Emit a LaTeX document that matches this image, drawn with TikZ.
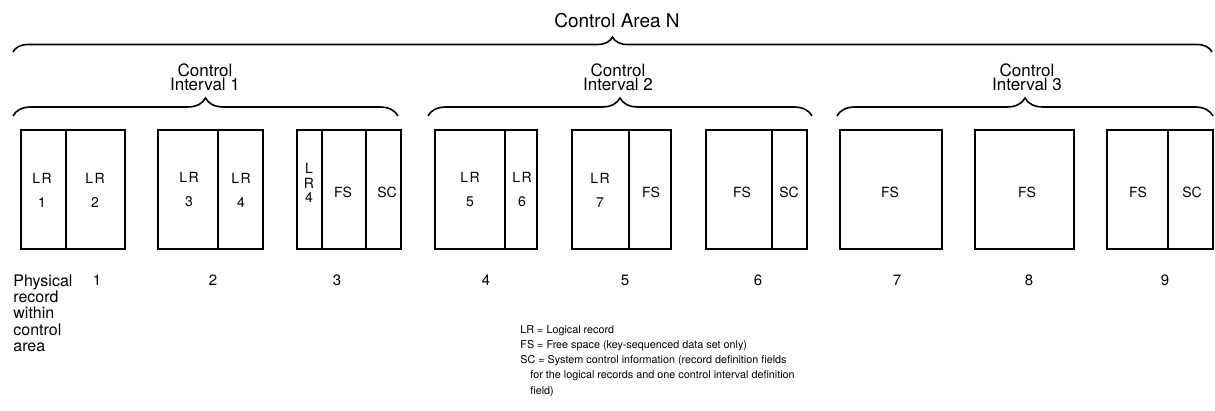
\documentclass[tikz,border=0pt]{standalone}
\usepackage{fontspec}
\setmainfont{TeX Gyre Heros}
\usetikzlibrary{positioning,decorations.pathreplacing}

\tikzset{
    boxline/.style={line width=0.9pt},
    bracket/.style={line width=0.8pt, decorate, decoration={brace, amplitude=#1}},
    cell/.style={font=\fontsize{7}{12}\selectfont, align=center, inner sep=0pt},
    head/.style={font=\fontsize{8.5}{7}\selectfont, align=center, inner sep=0pt},
    recno/.style={font=\fontsize{7.5}{9}\selectfont, inner sep=0pt},
}
\newcommand{\lrtag}{L\kern0.8pt R}

\begin{document}
\begin{tikzpicture}[x=0.5pt, y=-0.5pt]
    \useasboundingbox (0,0) rectangle (1215,411);

    % braces and their titles
    \node[head, font=\fontsize{9.5}{7}\selectfont] (area) at (617,21) {Control Area N};
    \draw[bracket=7.5pt] (13,52) -- (1212,52);
    \node[head] (ci1) at (205,77) {Control\\Interval 1};
    \node[head] (ci2) at (618,77) {Control\\Interval 2};
    \node[head] (ci3) at (1027,77) {Control\\Interval 3};
    \draw[bracket=9pt] (13,116) -- (398,116);
    \draw[bracket=9pt] (428,116) -- (812,116);
    \draw[bracket=9pt] (837,116) -- (1213,116);

    % the nine physical records
    \foreach \l/\r in {21/125, 158/263, 297/401, 435/537, 572/671,
                       706/807, 840/942, 975/1074, 1107/1213}
        \draw[boxline] (\l,130) rectangle (\r,249);
    \foreach \d in {66, 218, 322, 366, 505, 629, 772, 1168}
        \draw[boxline] (\d,130) -- (\d,249);

    % contents of the records
    \node[cell] (lr1) at (42,190) {\lrtag\\1};
    \node[cell] (lr2) at (95,190) {\lrtag\\2};
    \node[cell] (lr3) at (189,190) {\lrtag\\3};
    \node[cell] (lr4) at (241,190) {\lrtag\\4};
    \node[cell, font=\fontsize{7}{7.3}\selectfont] (lr4b) at (309,183) {L\\R\\4};
    \node[cell] (fs3) at (343,192) {FS};
    \node[cell] (sc3) at (387,192) {SC};
    \node[cell] (lr5) at (470,190) {\lrtag\\5};
    \node[cell] (lr6) at (522,190) {\lrtag\\6};
    \node[cell] (lr7) at (600,190) {\lrtag\\7};
    \node[cell] (fs5) at (651,192) {FS};
    \node[cell] (fs6) at (742,192) {FS};
    \node[cell] (sc6) at (789,192) {SC};
    \node[cell] (fs7) at (890,192) {FS};
    \node[cell] (fs8) at (1027,192) {FS};
    \node[cell] (fs9) at (1138,192) {FS};
    \node[cell] (sc9) at (1192,192) {SC};

    % record numbers
    \node[font=\fontsize{8}{8.2}\selectfont, align=left, anchor=north west, inner sep=0pt]
        (phys) at (13,274) {Physical\\record\\within\\control\\area};
    \foreach \x/\n in {97/1, 213/2, 337/3, 486/4, 625/5, 758/6, 897/7, 1029/8, 1165/9}
        \node[recno] (pr\n) at (\x,280) {\n};

    % legend
    \node[font=\fontsize{5.4}{7.6}\selectfont, align=left, anchor=north west, inner sep=0pt]
        (legend) at (520,325) {LR = Logical record\\
        FS = Free space (key-sequenced data set only)\\
        SC = System control information (record definition fields\\
        \hspace*{5pt}for the logical records and one control interval definition\\
        \hspace*{5pt}field)};
\end{tikzpicture}
\end{document}
